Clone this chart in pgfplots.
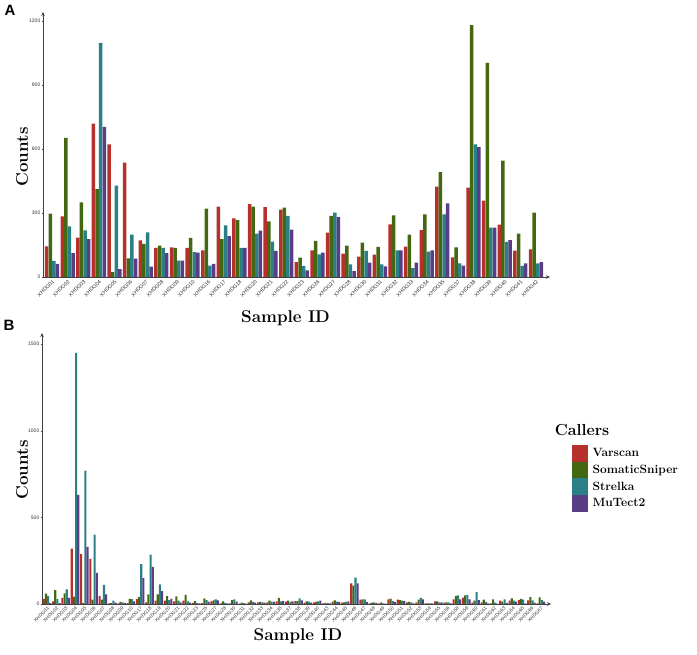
\documentclass[border=0pt]{standalone}
\usepackage{pgfplots}
\usepackage{pgfplotstable}
\usepackage{fontspec}
\pgfplotsset{compat=1.18}
\usetikzlibrary{arrows.meta}
\newfontfamily\arial{Liberation Sans}
\definecolor{cVar}{RGB}{183,49,44}
\definecolor{cSom}{RGB}{67,104,17}
\definecolor{cStr}{RGB}{42,128,134}
\definecolor{cMut}{RGB}{89,62,134}

\pgfplotstableread{
idx var som str mut
0 144 297 75 62
1 284 652 237 112
2 184 350 219 178
3 719 412 1097 703
4 622 23 428 37
5 536 87 198 86
6 172 155 209 48
7 137 147 137 112
8 139 137 77 77
9 137 183 117 114
10 125 320 53 62
11 330 178 242 191
12 275 267 137 136
13 341 330 203 217
14 328 261 166 122
15 316 325 287 222
16 70 91 52 31
17 125 169 106 114
18 208 286 302 280
19 109 147 59 28
20 95 161 122 67
21 105 141 59 50
22 247 289 125 125
23 142 198 41 67
24 220 294 119 125
25 423 491 294 345
26 92 139 64 53
27 419 1180 622 609
28 358 1003 231 231
29 245 545 164 173
30 123 203 52 64
31 130 302 64 70
}\dataA

\pgfplotstableread{
idx var som str mut
0 30 60 45 5
1 15 80 28 5
2 35 62 85 35
3 320 42 1450 630
4 290 5 770 330
5 260 25 400 180
6 45 25 110 55
7 3 5 20 8
8 3 12 10 5
9 5 30 28 15
10 30 40 230 150
11 10 55 285 215
12 20 56 114 75
13 19 46 23 29
14 15 44 19 10
15 19 52 15 8
16 6 17 5 3
17 5 33 23 13
18 15 21 27 21
19 3 15 6 3
20 4 23 27 13
21 2 8 5 2
22 10 21 12 8
23 10 12 10 8
24 10 19 13 12
25 15 35 15 17
26 13 19 12 15
27 17 17 33 21
28 8 15 13 8
29 10 12 15 19
30 3 6 6 4
31 13 21 13 12
32 8 10 12 15
33 119 106 152 119
34 25 27 27 12
35 3 8 10 6
36 3 10 3 2
37 27 31 17 12
38 25 23 19 17
39 10 12 10 3
40 10 25 35 27
41 4 4 4 3
42 15 15 10 10
43 8 10 10 4
44 27 46 50 27
45 37 50 52 27
46 8 19 69 23
47 10 25 12 3
48 4 27 8 2
49 19 13 27 6
50 19 33 19 13
51 23 29 25 3
52 21 40 21 8
53 3 38 23 13
}\dataB

\pgfplotsset{
  panel/.style={
    scale only axis, anchor=south west,
    axis lines=left,
    axis line style={line width=0.9pt, black!75, -{Stealth[length=4pt,width=3.5pt]}},
    ybar=0pt,
    ymin=0,
    tick align=outside,
    major tick length=1.5pt,
    tick style={black!70, line width=0.4pt},
    /pgf/number format/assume math mode=true,
    /pgf/number format/1000 sep={},
    yticklabel style={font=\arial\fontsize{5}{6}\selectfont, inner sep=1pt, text=black!80},
    xticklabel style={font=\arial\fontsize{5.3}{6}\selectfont, rotate=45, anchor=east, inner sep=0.5pt, yshift=-2.5pt, text=black!80},
    scaled y ticks=false,
    clip=false,
  },
  sqleg/.style={legend image code/.code={\fill[##1,draw=none] (0pt,-8.3pt) rectangle (16pt,8.3pt);}},
  bv/.style={fill=cVar, draw=none, sqleg},
  bs/.style={fill=cSom, draw=none, sqleg},
  bt/.style={fill=cStr, draw=none, sqleg},
  bm/.style={fill=cMut, draw=none, sqleg},
}

\begin{document}
\begin{tikzpicture}
\path[use as bounding box] (0pt,0pt) rectangle (697pt,655pt);

% Panel A
\begin{axis}[panel,
  at={(43pt,378pt)}, width=507pt, height=265pt,
  xmin=-0.58, xmax=31.9, ymax=1242,
  bar width=3.5pt,
  ytick={0,300,600,900,1200},
  xtick={0,...,31},
  xticklabels={XHDG01,XHDG02,XHDG03,XHDG04,XHDG05,XHDG06,XHDG07,XHDG08,XHDG09,XHDG10,XHDG16,XHDG17,XHDG18,XHDG20,XHDG21,XHDG22,XHDG23,XHDG26,XHDG27,XHDG28,XHDG30,XHDG31,XHDG32,XHDG33,XHDG34,XHDG35,XHDG37,XHDG38,XHDG39,XHDG40,XHDG41,XHDG42},
]
\addplot[bv, bar shift=-5.4pt] table[x=idx,y=var] {\dataA};
\addplot[bs, bar shift=-1.8pt] table[x=idx,y=som] {\dataA};
\addplot[bt, bar shift=1.8pt] table[x=idx,y=str] {\dataA};
\addplot[bm, bar shift=5.4pt] table[x=idx,y=mut] {\dataA};
\end{axis}

% Panel B
\begin{axis}[panel,
  at={(42pt,51pt)}, width=509pt, height=271pt,
  xmin=-0.54, xmax=54.1, ymax=1565,
  bar width=2.1pt,
  ytick={0,500,1000,1500},
  xtick={0,...,53},
  xticklabel style={font=\arial\fontsize{4.8}{5}\selectfont},
  xticklabels={XHDG01,XHDG02,XHDG03,XHDG04,XHDG05,XHDG06,XHDG07,XHDG08,XHDG09,XHDG10,XHDG17,XHDG18,XHDG19,XHDG20,XHDG21,XHDG22,XHDG23,XHDG25,XHDG27,XHDG28,XHDG30,XHDG31,XHDG32,XHDG33,XHDG34,XHDG35,XHDG37,XHDG38,XHDG39,XHDG40,XHDG43,XHDG44,XHDG45,XHDG46,XHDG47,XHDG48,XHDG49,XHDG50,XHDG51,XHDG52,XHDG53,XHDG54,XHDG55,XHDG56,XHDG58,XHDG59,XHDG60,XHDG61,XHDG62,XHDG63,XHDG64,XHDG65,XHDG66,XHDG67},
  legend style={at={(axis description cs:1.041,0.587)}, anchor=north west,
    draw=none, fill=none, inner sep=0pt, row sep=0pt,
    nodes={inner sep=0pt, font=\bfseries\fontsize{12}{14}\selectfont},
    /tikz/every odd column/.append style={column sep=4.5pt}},
  legend cell align=left,
]
\addplot[bv, bar shift=-3.225pt] table[x=idx,y=var] {\dataB};
\addplot[bs, bar shift=-1.075pt] table[x=idx,y=som] {\dataB};
\addplot[bt, bar shift=1.075pt] table[x=idx,y=str] {\dataB};
\addplot[bm, bar shift=3.225pt] table[x=idx,y=mut] {\dataB};
\legend{Varscan,SomaticSniper,Strelka,MuTect2}
\end{axis}

% Titles and labels
\node[font=\arial\bfseries\fontsize{15}{15}\selectfont] at (10pt,645pt) {A};
\node[font=\arial\bfseries\fontsize{15}{15}\selectfont] at (9pt,330pt) {B};
\node[rotate=90, font=\bfseries\fontsize{17}{17}\selectfont] at (22pt,498pt) {Counts};
\node[rotate=90, font=\bfseries\fontsize{17}{17}\selectfont] at (22pt,185pt) {Counts};
\node[font=\bfseries\fontsize{17}{17}\selectfont] at (285.5pt,337pt) {Sample ID};
\node[font=\bfseries\fontsize{17}{17}\selectfont] at (298pt,19pt) {Sample ID};
\node[font=\bfseries\fontsize{16}{16}\selectfont] at (582pt,225pt) {Callers};
\end{tikzpicture}
\end{document}
